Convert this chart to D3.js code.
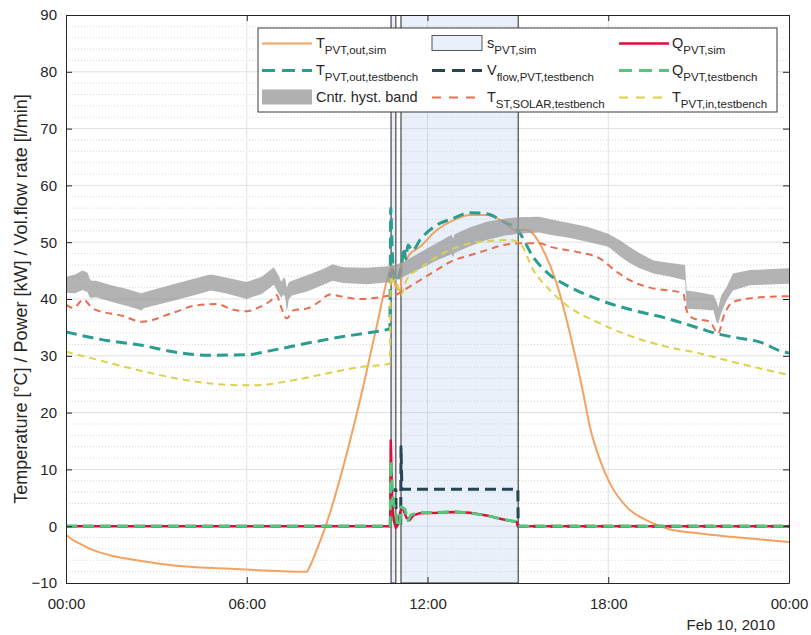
<!DOCTYPE html>
<html><head><meta charset="utf-8">
<script src="https://cdn.jsdelivr.net/npm/d3@7/dist/d3.min.js"></script>
<style>body{margin:0;background:#fff}text{font-family:Arial,"Liberation Sans",Helvetica,sans-serif;fill:#262626}</style>
</head><body><svg id="c" width="811" height="635"></svg>
<script>
// ---------- DATA (hours after 00:00 on Feb 10, 2010) ----------
const xTickHours = [0, 6, 12, 18, 24];
const yTickValues = [-10, 0, 10, 20, 30, 40, 50, 60, 70, 80, 90];
const dateLabel = "Feb 10, 2010";

// s_PVT,sim on-periods
const sOnStart = [10.79, 11.12];
const sOnEnd   = [10.95, 15.01];

// T_PVT,out,sim
const tOutSimHour = [0, 0.25, 0.46, 0.9, 1.46, 2.0, 3.1, 4.2, 5.3, 6.4, 7.99, 8.1, 8.32, 8.65, 9.2, 9.76, 10.31, 10.75, 10.82, 10.95, 11.1, 11.2, 11.3, 11.4, 11.75, 12.3, 12.86, 13.41, 13.96, 14.52, 14.96, 15.15, 15.35, 15.5, 15.84, 16.29, 16.73, 17.17, 17.39, 17.73, 18.06, 18.61, 19.39, 19.94, 21.05, 22.15, 24];
const tOutSimVal  = [-1.5, -2.5, -3.05, -4.2, -5.1, -5.7, -6.6, -7.2, -7.45, -7.75, -8.0, -7.0, -4.2, 0.5, 10.4, 22.2, 35.1, 45.1, 46.0, 42.0, 41.5, 48.5, 47.0, 47.8, 49.2, 52.1, 53.9, 54.8, 54.8, 53.6, 52.0, 52.2, 52.1, 51.5, 48.6, 42.7, 33.9, 23.4, 17.5, 11.6, 7.5, 3.4, 0.76, -0.4, -1.3, -1.9, -2.8];

// T_PVT,out,testbench
const tOutTbHour = [0, 1.35, 2.46, 3.56, 4.67, 6.0, 6.88, 7.99, 9.1, 10.2, 10.75, 10.78, 10.82, 10.86, 10.95, 11.05, 11.15, 11.22, 11.28, 11.35, 11.5, 11.75, 12.3, 12.86, 13.41, 13.96, 14.52, 15.0, 15.51, 16.07, 16.62, 17.73, 18.83, 19.94, 21.05, 21.6, 22.15, 23.04, 23.81, 24];
const tOutTbVal  = [34.2, 32.7, 31.9, 30.7, 30.1, 30.2, 31.0, 32.2, 33.3, 34.2, 34.8, 56.0, 50.0, 45.0, 43.0, 44.0, 46.5, 49.0, 47.0, 49.5, 48.5, 50.4, 53.0, 54.2, 55.2, 55.0, 53.6, 52.1, 47.4, 44.2, 42.4, 39.8, 38.0, 36.6, 34.8, 33.9, 33.3, 32.4, 30.7, 30.5];

// Controller hysteresis band
const bandHour = [0, 0.3, 0.55, 0.72, 0.78, 0.85, 1.0, 1.5, 2.0, 2.5, 2.6, 3.5, 4.5, 4.8, 5.3, 6.0, 6.5, 6.9, 7.05, 7.15, 7.22, 7.28, 7.33, 7.4, 7.5, 8.0, 8.5, 8.85, 9.2, 10.0, 10.8, 11.2, 11.75, 12.3, 12.8, 12.85, 12.9, 13.4, 13.96, 14.5, 15.0, 15.7, 16.2, 16.7, 17.3, 18.0, 18.4, 18.7, 19.0, 19.5, 20.0, 20.55, 20.6, 21.0, 21.49, 21.6, 21.65, 21.75, 21.93, 22.14, 22.7, 24];
const bandLow  = [41.1, 41.0, 41.6, 41.2, 40.3, 40.2, 40.3, 39.5, 38.8, 38.0, 38.4, 39.6, 41.0, 41.5, 41.0, 40.0, 40.9, 42.5, 41.0, 40.2, 40.8, 40.2, 37.7, 40.0, 40.6, 41.3, 42.4, 43.2, 42.8, 42.6, 43.0, 43.9, 45.3, 46.8, 47.9, 47.3, 48.1, 49.3, 50.4, 51.1, 51.5, 51.7, 51.2, 50.8, 50.1, 49.2, 47.5, 46.4, 45.5, 44.5, 44.0, 43.3, 38.3, 38.2, 38.0, 35.8, 35.7, 37.5, 39.8, 41.5, 42.4, 42.7];
const bandHigh = [43.9, 44.3, 45.0, 44.6, 43.6, 43.2, 43.2, 42.4, 41.8, 41.0, 41.2, 42.5, 43.9, 44.3, 43.8, 43.0, 43.9, 45.6, 44.2, 43.0, 43.8, 43.5, 42.0, 43.0, 43.2, 44.2, 45.2, 46.1, 45.6, 45.5, 45.8, 46.5, 48.2, 49.8, 51.3, 50.6, 51.4, 52.6, 53.6, 54.1, 54.4, 54.5, 53.9, 53.4, 52.7, 51.5, 50.3, 49.2, 48.2, 46.8, 46.4, 46.0, 41.5, 41.2, 40.7, 39.5, 38.5, 40.6, 42.1, 44.5, 45.1, 45.4];

// T_ST,SOLAR,testbench
const tStHour = [0, 0.25, 0.57, 0.9, 1.9, 2.51, 3.56, 4.34, 5.0, 5.55, 6.0, 6.44, 6.88, 7.0, 7.1, 7.33, 7.55, 7.99, 8.43, 8.76, 9.1, 9.76, 10.75, 10.98, 11.2, 11.75, 12.3, 12.86, 13.41, 13.96, 14.52, 15.07, 15.73, 16.07, 16.95, 17.73, 18.28, 18.83, 19.39, 20.49, 20.6, 20.82, 21.37, 21.65, 21.82, 22.15, 23.04, 24];
const tStVal  = [39.0, 38.4, 39.9, 38.3, 37.0, 36.0, 37.6, 38.9, 39.1, 38.1, 37.85, 38.6, 40.1, 40.7, 39.2, 36.6, 38.0, 38.3, 39.6, 40.8, 40.5, 40.0, 40.6, 40.8, 41.5, 43.3, 45.1, 46.8, 47.7, 48.6, 49.5, 49.8, 49.8, 49.2, 48.3, 47.1, 44.8, 43.0, 42.0, 41.0, 38.0, 36.6, 36.0, 33.9, 36.8, 39.5, 40.3, 40.5];

// T_PVT,in,testbench
const tInHour = [0, 0.9, 2.0, 3.12, 4.23, 5.33, 6.22, 7.55, 8.65, 9.76, 10.75, 10.78, 10.85, 10.95, 11.05, 11.12, 11.3, 11.75, 12.3, 12.86, 13.41, 13.96, 14.74, 15.07, 15.51, 16.07, 16.62, 17.73, 18.83, 19.94, 21.05, 22.15, 23.26, 24];
const tInVal  = [30.7, 29.5, 28.0, 26.6, 25.5, 24.9, 24.8, 25.7, 26.9, 28.0, 28.6, 44.0, 43.0, 43.5, 41.5, 40.7, 43.3, 45.4, 47.4, 48.9, 49.8, 50.2, 50.4, 49.8, 45.1, 41.5, 38.9, 35.7, 33.3, 31.6, 30.4, 28.9, 27.5, 26.6];

// V_flow,PVT,testbench
const vFlowHour = [0, 10.77, 10.78, 10.95, 10.96, 11.11, 11.12, 11.15, 15.0, 15.01, 24];
const vFlowVal  = [0, 0, 6.4, 6.4, 0, 0, 14.0, 6.5, 6.5, 0, 0];

// Q_PVT,sim
const qSimHour = [0, 10.76, 10.78, 10.83, 10.88, 10.95, 11.02, 11.12, 11.2, 11.3, 11.4, 11.53, 11.75, 12.3, 12.86, 13.41, 13.96, 14.52, 14.96, 15.0, 24];
const qSimVal  = [0, 0, 15.1, 4.0, 1.0, -0.3, 0.3, 3.1, 2.9, 1.5, 1.06, 1.9, 2.3, 2.35, 2.5, 2.35, 1.9, 1.17, 0.76, 0, 0];

// Q_PVT,testbench
const qTbHour = [0, 10.76, 10.78, 10.82, 10.86, 10.9, 10.95, 11.0, 11.08, 11.12, 11.25, 11.35, 11.45, 11.75, 12.3, 12.86, 13.41, 13.96, 14.52, 14.96, 15.0, 24];
const qTbVal  = [0, 0, 11.5, 8.0, 4.0, 3.5, 2.5, 0, 0, 3.4, 3.0, 1.0, 2.0, 2.4, 2.4, 2.6, 2.3, 1.9, 1.2, 0.8, 0, 0];

// Legend (column-wise order)
const legendMain = ["T", "T", "Cntr. hyst. band", "s", "V", "T", "Q", "Q", "T"];
const legendSub  = ["PVT,out,sim", "PVT,out,testbench", "", "PVT,sim", "flow,PVT,testbench", "ST,SOLAR,testbench", "PVT,sim", "PVT,testbench", "PVT,in,testbench"];

// ---------- DRAWING ----------
const svg = d3.select("#c");
const L = 66, R = 789, T = 15, B = 583;
const t0 = Date.UTC(2010, 1, 10);
const toDate = h => new Date(t0 + h * 3600e3);
const x = d3.scaleUtc().domain([toDate(0), toDate(24)]).range([L, R]);
const y = d3.scaleLinear().domain([-10, 90]).range([B, T]);

const C = {
  outSim: "#F4A261", outTb: "#2A9D8F", band: "#999999", st: "#E76F51",
  tin: "#DDD04A", vflow: "#264653", qsim: "#DC0F3C", qtb: "#52C878",
  sFill: "#A9C4E6", edge: "#262626"
};

const g = svg.append("g");
g.append("defs").append("clipPath").attr("id", "clip")
  .append("rect").attr("x", L).attr("y", T).attr("width", R - L).attr("height", B - T);

// grid
const minorY = d3.range(-10, 91, 2).filter(v => v % 10 !== 0);
g.append("g").selectAll("line").data(minorY).join("line")
  .attr("x1", L).attr("x2", R).attr("y1", d => y(d)).attr("y2", d => y(d))
  .attr("stroke", "#d8d8d8").attr("stroke-width", 1).attr("stroke-dasharray", "1,2");
g.append("g").selectAll("line").data(yTickValues.slice(1, -1)).join("line")
  .attr("x1", L).attr("x2", R).attr("y1", d => y(d)).attr("y2", d => y(d))
  .attr("stroke", "#e1e1e1").attr("stroke-width", 1);
g.append("g").selectAll("line").data(xTickHours.slice(1, -1)).join("line")
  .attr("x1", d => x(toDate(d))).attr("x2", d => x(toDate(d))).attr("y1", T).attr("y2", B)
  .attr("stroke", "#e1e1e1").attr("stroke-width", 1);

const plot = g.append("g").attr("clip-path", "url(#clip)");

// s_PVT on-period patches
plot.append("g").selectAll("rect").data(sOnStart).join("rect")
  .attr("x", (d, i) => x(toDate(d)))
  .attr("width", (d, i) => x(toDate(sOnEnd[i])) - x(toDate(d)))
  .attr("y", y(90)).attr("height", y(-10) - y(90))
  .attr("fill", C.sFill).attr("fill-opacity", 0.25)
  .attr("stroke", C.edge).attr("stroke-width", 1);

const pts = (hs, vs) => hs.map((h, i) => ({ t: toDate(h), v: vs[i] }));
const lineLin = d3.line().x(d => x(d.t)).y(d => y(d.v));
const lineSmooth = d3.line().x(d => x(d.t)).y(d => y(d.v)).curve(d3.curveMonotoneX);
function drawLine(data, color, width, dash, smooth) {
  plot.append("path").datum(data).attr("d", smooth ? lineSmooth : lineLin)
    .attr("fill", "none").attr("stroke", color).attr("stroke-width", width)
    .attr("stroke-dasharray", dash || null).attr("stroke-linejoin", "round");
}

drawLine(pts(tOutSimHour, tOutSimVal), C.outSim, 2, null, true);
drawLine(pts(tOutTbHour, tOutTbVal), C.outTb, 3, "11,6", true);

const area = d3.area().x(d => x(d.t)).y0(d => y(d.lo)).y1(d => y(d.hi));
plot.append("path")
  .datum(bandHour.map((h, i) => ({ t: toDate(h), lo: bandLow[i], hi: bandHigh[i] })))
  .attr("d", area).attr("fill", C.band).attr("fill-opacity", 0.75);

drawLine(pts(tStHour, tStVal), C.st, 2, "7,5", true);
drawLine(pts(tInHour, tInVal), C.tin, 2, "7,5", true);
drawLine(pts(vFlowHour, vFlowVal), C.vflow, 3, "11,6");
drawLine(pts(qSimHour, qSimVal), C.qsim, 2.5);
drawLine(pts(qTbHour, qTbVal), C.qtb, 3, "11,6");

// axes
const xTicks = xTickHours.map(toDate);
const fmt = d3.utcFormat("%H:%M");
function styleAxis(sel) {
  sel.selectAll("path.domain").attr("stroke", C.edge).attr("stroke-width", 1);
  sel.selectAll(".tick line").attr("stroke", C.edge);
  sel.selectAll("text").attr("font-size", 15).attr("fill", "#262626")
    .style("font-family", 'Arial,"Liberation Sans",sans-serif');
}
g.append("g").attr("transform", `translate(0,${B})`)
  .call(d3.axisBottom(x).tickValues(xTicks).tickFormat(fmt).tickSizeInner(-6).tickSizeOuter(0).tickPadding(15))
  .call(styleAxis);
g.append("g").attr("transform", `translate(0,${T})`)
  .call(d3.axisTop(x).tickValues(xTicks).tickFormat("").tickSizeInner(-6).tickSizeOuter(0))
  .call(styleAxis);
g.append("g").attr("transform", `translate(${L},0)`)
  .call(d3.axisLeft(y).tickValues(yTickValues).tickSizeInner(-6).tickSizeOuter(0).tickPadding(9))
  .call(styleAxis);
g.append("g").attr("transform", `translate(${R},0)`)
  .call(d3.axisRight(y).tickValues(yTickValues).tickFormat("").tickSizeInner(-6).tickSizeOuter(0))
  .call(styleAxis);

// date label
g.append("text").attr("x", 775).attr("y", 630).attr("text-anchor", "end")
  .attr("font-size", 15).text(dateLabel);

// y label
g.append("text").attr("transform", `translate(27,${(T + B) / 2}) rotate(-90)`)
  .attr("text-anchor", "middle").attr("font-size", 18)
  .text("Temperature [°C] / Power [kW] / Vol.flow rate [l/min]");

// legend
const lg = g.append("g");
lg.append("rect").attr("x", 258).attr("y", 28).attr("width", 519).attr("height", 84)
  .attr("fill", "#fff").attr("stroke", "#3a3a3a").attr("stroke-width", 1);
const colSample = [262, 432, 619], colText = [316, 487, 672], rowY = [43.5, 70.5, 97.5];
const legStyle = [
  { type: "line", c: C.outSim, w: 2 },
  { type: "line", c: C.outTb, w: 3, d: "13,7" },
  { type: "patch", c: "#b0b0b0" },
  { type: "spatch" },
  { type: "line", c: C.vflow, w: 3, d: "13,7" },
  { type: "line", c: C.st, w: 2, d: "9,8" },
  { type: "line", c: C.qsim, w: 2.5 },
  { type: "line", c: C.qtb, w: 3, d: "13,7" },
  { type: "line", c: C.tin, w: 2, d: "9,8" }
];
legendMain.forEach((m, i) => {
  const col = Math.floor(i / 3), row = i % 3;
  const sx = colSample[col], cy = rowY[row], st = legStyle[i];
  if (st.type === "line") {
    lg.append("line").attr("x1", sx).attr("x2", sx + 50).attr("y1", cy).attr("y2", cy)
      .attr("stroke", st.c).attr("stroke-width", st.w).attr("stroke-dasharray", st.d || null);
  } else if (st.type === "patch") {
    lg.append("rect").attr("x", sx).attr("y", cy - 8).attr("width", 50).attr("height", 15).attr("fill", st.c);
  } else {
    lg.append("rect").attr("x", sx).attr("y", cy - 8).attr("width", 50).attr("height", 15)
      .attr("fill", "#E9F0F9").attr("stroke", "#555").attr("stroke-width", 1);
  }
  const t = lg.append("text").attr("x", colText[col]).attr("y", cy + 4.5).attr("font-size", 14.5);
  t.append("tspan").text(m);
  if (legendSub[i]) t.append("tspan").attr("font-size", 11.5).attr("dy", 6).text(legendSub[i]);
});
</script>
</body></html>
